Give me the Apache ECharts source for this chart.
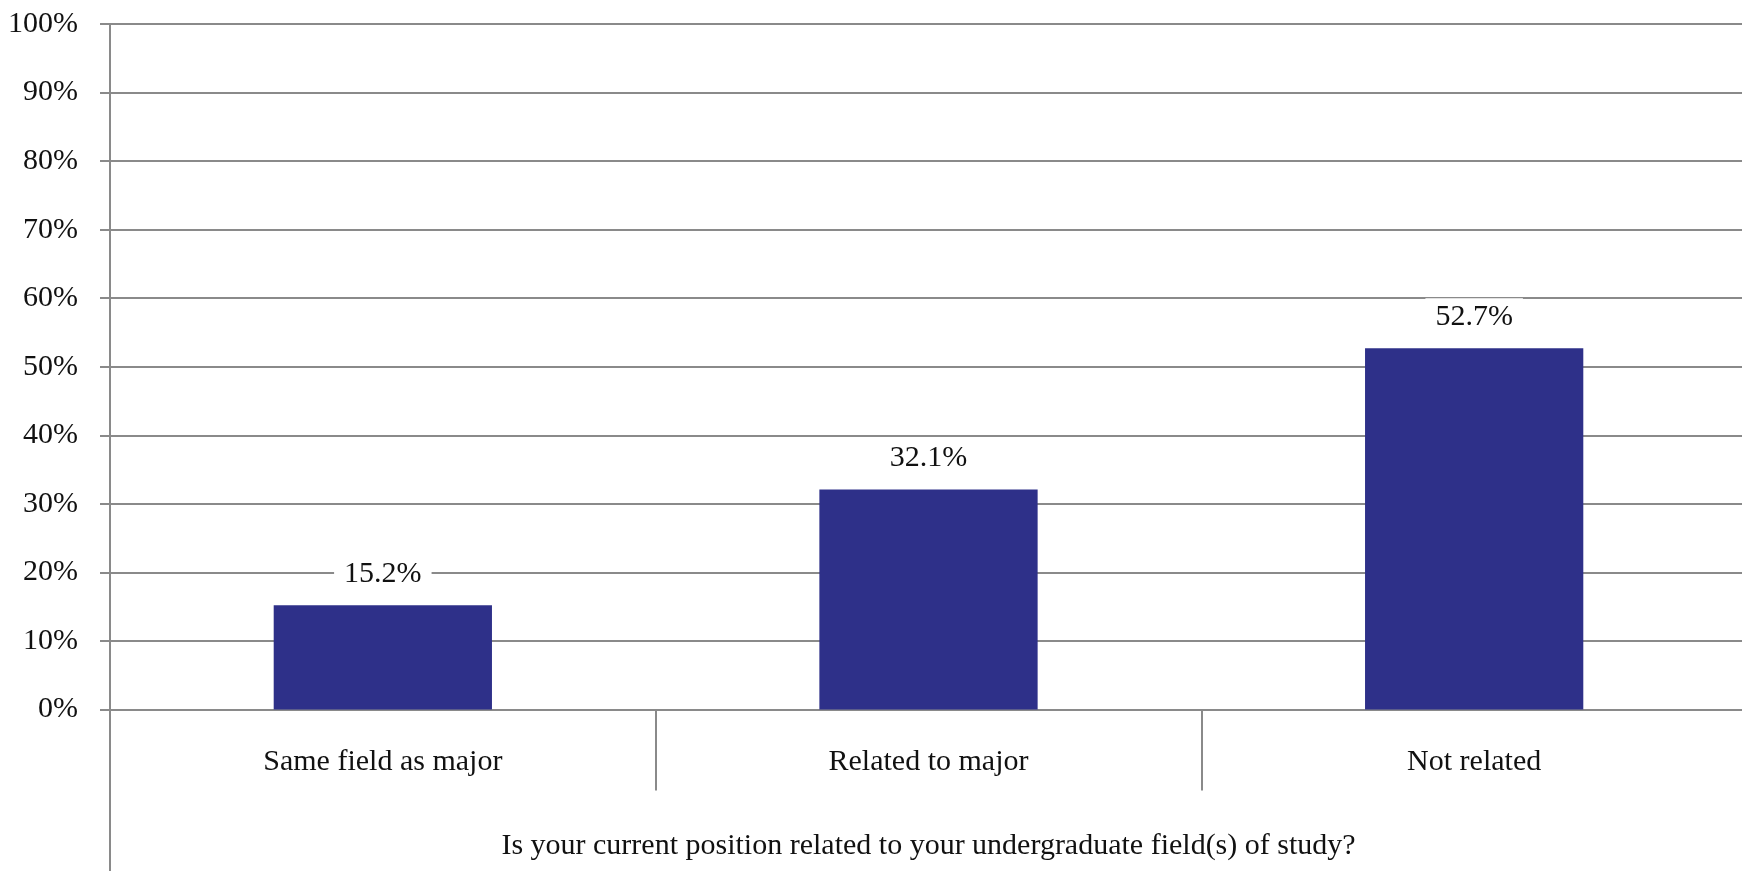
<!DOCTYPE html>
<html>
	<head>
		<meta charset="utf-8" />
		<title></title>
		<script src="https://cdn.jsdelivr.net/npm/echarts@6/dist/echarts.min.js" type="text/javascript" charset="utf-8"></script>
		<style type="text/css">
			html, body { margin: 0; padding: 0; background: #fff; }
			#main {
				width: 1742px;
				height: 871px;
			}
		</style>
	</head>
	<body>
		<div id="main"></div>
		<script type="text/javascript">
			var categories = ['Same field as major', 'Related to major', 'Not related'];
			var shares = [15.2, 32.1, 52.7];
			var axisTitle = 'Is your current position related to your undergraduate field(s) of study?';

			var gray = '#8a8a8a';
			var font = 'Liberation Serif';

			var myChart = echarts.init(document.getElementById('main'));
			var option = {
				animation: false,
				grid: { left: 110, top: 24, width: 1637, height: 685.5, outerBoundsMode: 'none' },
				xAxis: {
					type: 'category',
					data: categories,
					name: axisTitle,
					nameLocation: 'middle',
					nameGap: 122,
					nameTextStyle: { color: '#111', fontFamily: font, fontSize: 30 },
					axisLine: { lineStyle: { color: gray, width: 2 } },
					axisTick: { show: true, length: 81, lineStyle: { color: gray, width: 2 } },
					axisLabel: { margin: 38, color: '#111', fontFamily: font, fontSize: 30 }
				},
				yAxis: {
					type: 'value',
					min: 0,
					max: 100,
					interval: 10,
					axisLine: { show: true, lineStyle: { color: gray, width: 2 } },
					axisTick: { show: true, length: 10, lineStyle: { color: gray, width: 2 } },
					axisLabel: { margin: 32, color: '#111', fontFamily: font, fontSize: 30, formatter: '{value}%' },
					splitLine: { lineStyle: { color: gray, width: 2 } }
				},
				series: [{
					type: 'bar',
					data: shares,
					barWidth: '40%',
					itemStyle: { color: '#2e3089' },
					label: {
						show: true,
						position: 'top',
						distance: 12,
						formatter: function (p) { return p.value.toFixed(1) + '%'; },
						color: '#111',
						fontFamily: font,
						fontSize: 30,
						backgroundColor: '#fff',
						padding: [4, 10]
					}
				}]
			};
			myChart.setOption(option);

			// y axis line continues down past the category labels
			var origin = myChart.convertToPixel({ xAxisIndex: 0, yAxisIndex: 0 }, [0, 0]);
			var axisX = myChart.getModel().getComponent('grid').coordinateSystem.getRect().x;
			myChart.setOption({
				graphic: [{
					type: 'line',
					shape: { x1: axisX, y1: origin[1], x2: axisX, y2: 871 },
					style: { stroke: gray, lineWidth: 2 },
					z: 10
				}]
			});
		</script>
	</body>
</html>
